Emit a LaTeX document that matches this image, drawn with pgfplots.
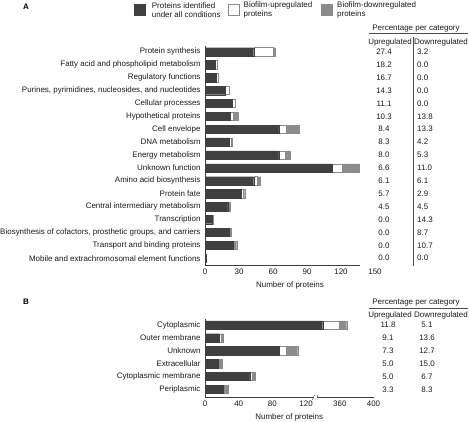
\documentclass[border=0pt]{standalone}
\usepackage{fontspec}
\setmainfont{Liberation Sans}
\usepackage{pgfplots}
\usepackage{pgfplotstable}
\pgfplotsset{compat=1.18}
\definecolor{dk}{HTML}{404040}
\definecolor{gy}{HTML}{8C8C8C}
\definecolor{edge}{HTML}{8A8A8A}
\definecolor{txt}{HTML}{1A1A1A}
\newcommand{\ef}{\fontsize{8}{9.6}\selectfont}

\pgfplotstableread{
y dark up down
0 43 17 2
1 9 2 0
2 10 2 0
3 18 3 0
4 24 3 0
5 22 3 4
6 65 7 11
7 21 2 1
8 65 6 4
9 112 9 15
10 43 3 3
11 32 2 1
12 20 1 1
13 6 0 1
14 21 0 2
15 25 0 3
16 1 0 0
}\dataA

\pgfplotstableread{
y dark up down
0 139.7 19.3 9.2
1 17 2 3
2 88 8 14
3 16 1 3
4 53 3 4
5 22 1 5
}\dataB

\tikzset{
  sdark/.style={fill=dk, draw=dk, line width=0.3bp},
  sup/.style={fill=white, draw=edge, line width=0.4bp},
  sdown/.style={fill=gy, draw=edge, line width=0.3bp},
}
\pgfplotsset{
  common/.style={
    scale only axis,
    xbar stacked, bar width=8.3bp,
    y dir=reverse,
    axis x line*=bottom, axis y line*=left,
    axis line style={black!75, line width=0.5bp},
    tick style={draw=none},
    font=\ef,
    /pgf/number format/assume math mode=true,
    ytick={0,...,16},
    tick label style={font=\ef, text=txt},
    yticklabel style={xshift=-1bp},
    xlabel style={font=\ef, text=txt},
    clip=false,
  },
}

\begin{document}
\begin{tikzpicture}[x=1bp,y=1bp,font=\ef]
\path[use as bounding box] (0,0) rectangle (469,-421);
\node[font=\ef\bfseries] at (26,-7) {A};
\node[font=\ef\bfseries] at (26,-302) {B};

\begin{axis}[common,
  at={(205bp,-46bp)}, anchor=north west,
  width=170bp, height=219.6bp,
  xmin=0, xmax=150, ymin=-0.45, ymax=16.57,
  x axis line style={shorten >=15bp},
  xtick={0,30,...,150},
  yticklabels={Protein synthesis,
    Fatty acid and phospholipid metabolism,
    Regulatory functions,
    {Purines, pyrimidines, nucleosides, and nucleotides},
    Cellular processes,
    Hypothetical proteins,
    Cell envelope,
    DNA metabolism,
    Energy metabolism,
    Unknown function,
    Amino acid biosynthesis,
    Protein fate,
    Central intermediary metabolism,
    Transcription,
    {Biosynthesis of cofactors, prosthetic groups, and carriers},
    Transport and binding proteins,
    Mobile and extrachromosomal element functions},
  xlabel={Number of proteins},
]
\addplot[sdark] table[x=dark,y=y]{\dataA};
\addplot[sup] table[x=up,y=y]{\dataA};
\addplot[sdown] table[x=down,y=y]{\dataA};
\node[font=\fontsize{5}{6}\selectfont] at (axis cs:51.5,0) {**};
\end{axis}

\begin{axis}[common,
  at={(205bp,-319.2bp)}, anchor=north west,
  width=168.5bp, height=78.1bp,
  xmin=0, xmax=200, ymin=-0.45, ymax=5.62,
  xtick={0,40,80,120,160,200},
  xticklabels={0,40,80,120,360,400},
  yticklabels={Cytoplasmic, Outer membrane, Unknown, Extracellular, Cytoplasmic membrane, Periplasmic},
  xlabel={Number of proteins},
]
\addplot[sdark] table[x=dark,y=y]{\dataB};
\addplot[sup] table[x=up,y=y]{\dataB};
\addplot[sdown] table[x=down,y=y]{\dataB};
\fill[white] (axis cs:129,5.5) rectangle (axis cs:132.5,5.75);
\draw[black!75, line width=0.5bp] (axis cs:127.5,5.8) -- (axis cs:130,5.45);
\draw[black!75, line width=0.5bp] (axis cs:131.5,5.8) -- (axis cs:134,5.45);
\end{axis}

\begin{scope}[every node/.style={text=txt, inner sep=0pt, font=\ef}]
% legend
\draw[sdark] (134,-4.5) rectangle (145,-15.5);
\node[anchor=west, align=left] at (151.7,-10) {Proteins identified\\under all conditions};
\draw[sup] (228,-4.5) rectangle (239,-15.5);
\node[anchor=west, align=left] at (243.5,-10) {Biofilm-upregulated\\proteins};
\draw[sdown] (321,-4.5) rectangle (332,-15.5);
\node[anchor=west, align=left] at (337,-10) {Biofilm-downregulated\\proteins};
% Percentage table A
\node at (416,-28.3) {Percentage per category};
\draw[black!70, line width=0.4bp] (369,-33.5) -- (468,-33.5);
\node at (390,-42.3) {Upregulated};
\node at (441,-42.3) {Downregulated};
\draw[black!70, line width=0.4bp] (413,-37) -- (413,-265.5);
\foreach \i/\u/\d in {0/27.4/3.2, 1/18.2/0.0, 2/16.7/0.0, 3/14.3/0.0, 4/11.1/0.0,
  5/10.3/13.8, 6/8.4/13.3, 7/8.3/4.2, 8/8.0/5.3, 9/6.6/11.0, 10/6.1/6.1,
  11/5.7/2.9, 12/4.5/4.5, 13/0.0/14.3, 14/0.0/8.7, 15/0.0/10.7, 16/0.0/0.0}{
  \node at (384,{-51.8-12.9*\i}) {\u};
  \node[anchor=west] at (417,{-51.8-12.9*\i}) {\d};
}
% Percentage table B
\node at (416,-302.7) {Percentage per category};
\draw[black!70, line width=0.4bp] (369,-307.8) -- (468,-307.8);
\node at (390,-315.5) {Upregulated};
\node at (441,-315.5) {Downregulated};
\foreach \i/\u/\d in {0/11.8/5.1, 1/9.1/13.6, 2/7.3/12.7, 3/5.0/15.0, 4/5.0/6.7, 5/3.3/8.3}{
  \node at (388,{-325-12.87*\i}) {\u};
  \node at (427,{-325-12.87*\i}) {\d};
}
\end{scope}
\end{tikzpicture}
\end{document}
